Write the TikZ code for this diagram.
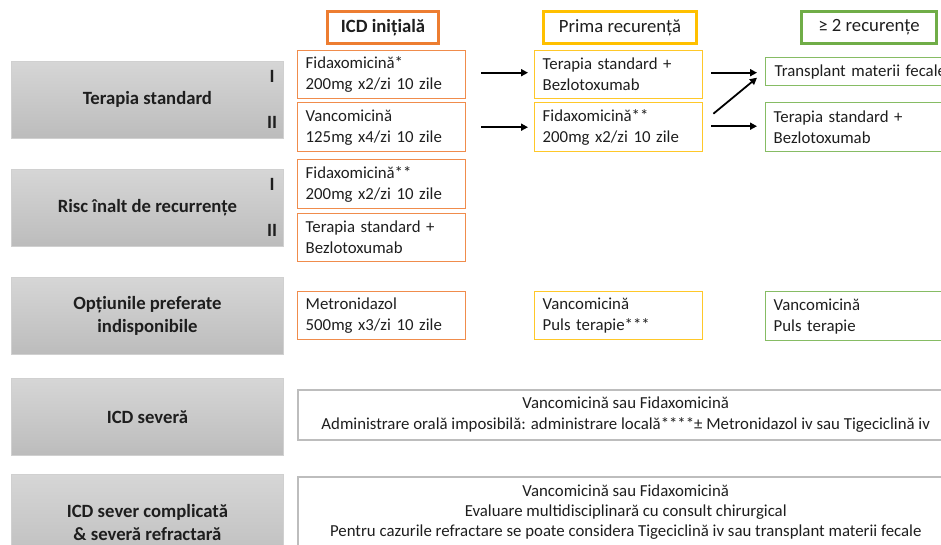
\documentclass[tikz,border=0pt]{standalone}
\usepackage{fontspec}
\setmainfont{Carlito}
\usetikzlibrary{arrows.meta}
\definecolor{orH}{HTML}{ED7D31}
\definecolor{orB}{HTML}{F08C4C}
\definecolor{goH}{HTML}{FFC000}
\definecolor{goB}{HTML}{FFC829}
\definecolor{grH}{HTML}{70AD47}
\definecolor{grB}{HTML}{86BC64}
\definecolor{gTop}{HTML}{D6D6D6}
\definecolor{gBot}{HTML}{BCBCBC}
\definecolor{gEdge}{HTML}{D0D0D0}
\definecolor{wEdge}{HTML}{BDBDBD}
\definecolor{txt}{HTML}{1E1E1E}
\begin{document}
\begin{tikzpicture}[x=1pt,y=-1pt,
  body/.style={font=\fontsize{16.8}{21}\selectfont, text=txt},
  cbox/.style={draw=#1, line width=1.4pt, anchor=north west, align=left,
    inner xsep=8pt, inner ysep=0pt, body},
  hbox/.style={draw=#1, line width=3pt, anchor=north west, inner sep=0pt,
    font=\fontsize{18.7}{23}\selectfont, text=txt},
  gbox/.style={draw=gEdge, line width=0.8pt, top color=gTop, bottom color=gBot,
    anchor=north west, align=center, inner sep=0pt, minimum width=272pt,
    font=\bfseries\fontsize{18.7}{23}\selectfont, text=txt},
  lbl/.style={inner sep=0pt, font=\bfseries\fontsize{18.7}{23}\selectfont, text=txt},
  wbox/.style={draw=wEdge, line width=1.5pt, anchor=north west, align=center,
    inner sep=0pt, minimum width=656pt, body},
  arr/.style={line width=1.8pt, -{Triangle[length=7pt,width=7pt]}}
]
\useasboundingbox (0,0) rectangle (941,544);
\clip (0,0) rectangle (941,544);

% headers
\node[hbox=orH, minimum width=111pt, minimum height=32pt] (h1) at (326,10) {\textbf{ICD inițială}};
\node[hbox=goH, minimum width=153pt, minimum height=32pt] (h2) at (542,10) {Prima recurență};
\node[hbox=grH, minimum width=135pt, minimum height=32pt] (h3) at (800,10) {≥ 2 recurențe};

% gray row labels
\node[gbox, minimum height=77pt] (g1) at (11,61) {Terapia standard};
\node[gbox, minimum height=77pt] (g2) at (11,169) {Risc înalt de recurrențe};
\node[gbox, minimum height=77pt] (g3) at (11,277) {Opțiunile preferate\\indisponibile};
\node[gbox, minimum height=77pt] (g4) at (11,378) {ICD severă};
\node[gbox, minimum height=97pt] (g5) at (11,474) {ICD sever complicată\\\& severă refractară};

\node[lbl] (g1a) at (272,76) {I};
\node[lbl] (g1b) at (272,122) {II};
\node[lbl] (g2a) at (272,184) {I};
\node[lbl] (g2b) at (272,230) {II};

% column 1
\node[cbox=orB, text width=152pt, minimum height=48pt] (f1) at (297,50) {Fidaxomicină*\\200mg x2/zi 10 zile};
\node[cbox=orB, text width=152pt, minimum height=49pt] (f2) at (297,102) {Vancomicină\\125mg x4/zi 10 zile};
\node[cbox=orB, text width=152pt, minimum height=49pt] (f3) at (297,159) {Fidaxomicină**\\200mg x2/zi 10 zile};
\node[cbox=orB, text width=152pt, minimum height=48pt] (f4) at (297,213) {Terapia standard +\\Bezlotoxumab};
\node[cbox=orB, text width=152pt, minimum height=48pt] (f5) at (297,291) {Metronidazol\\500mg x3/zi 10 zile};

% column 2
\node[cbox=goB, text width=152pt, minimum height=48pt] (p1) at (534,50) {Terapia standard +\\Bezlotoxumab};
\node[cbox=goB, text width=152pt, minimum height=49pt] (p2) at (534,102) {Fidaxomicină**\\200mg x2/zi 10 zile};
\node[cbox=goB, text width=152pt, minimum height=48pt] (p3) at (534,291) {Vancomicină\\Puls terapie***};

% column 3
\node[cbox=grB, text width=200pt, minimum height=28pt, inner xsep=9pt] (t1) at (765,57) {Transplant materii fecale};
\node[cbox=grB, text width=168pt, minimum height=49pt] (t2) at (765,102) {Terapia standard +\\Bezlotoxumab};
\node[cbox=grB, text width=168pt, minimum height=49pt] (t3) at (765,291) {Vancomicină\\Puls terapie};

% wide boxes
\node[wbox, minimum height=50pt] (w1) at (297,389) {Vancomicină sau Fidaxomicină\\Administrare orală imposibilă: administrare locală****± Metronidazol iv sau Tigeciclină iv};
\node[wbox, minimum height=70pt, font=\fontsize{16.8}{20}\selectfont] (w2) at (297,476) {Vancomicină sau Fidaxomicină\\Evaluare multidisciplinară cu consult chirurgical\\Pentru cazurile refractare se poate considera Tigeciclină iv sau transplant materii fecale};

% arrows
\draw[arr] ([xshift=15pt,yshift=2pt]f1.east) -- ([xshift=-6pt,yshift=2pt]p1.west);
\draw[arr] ([xshift=15pt]f2.east) -- ([xshift=-6pt]p2.west);
\draw[arr] ([xshift=8pt,yshift=2pt]p1.east) -- ([xshift=-8pt,yshift=-1pt]t1.west);
\draw[arr] ([xshift=8pt,yshift=1pt]p2.east) -- ([xshift=-8pt,yshift=1pt]t2.west);
\draw[arr] ([xshift=10pt,yshift=13.5pt]p2.east) -- ([xshift=-8pt,yshift=-6pt]t1.west);
\end{tikzpicture}
\end{document}
